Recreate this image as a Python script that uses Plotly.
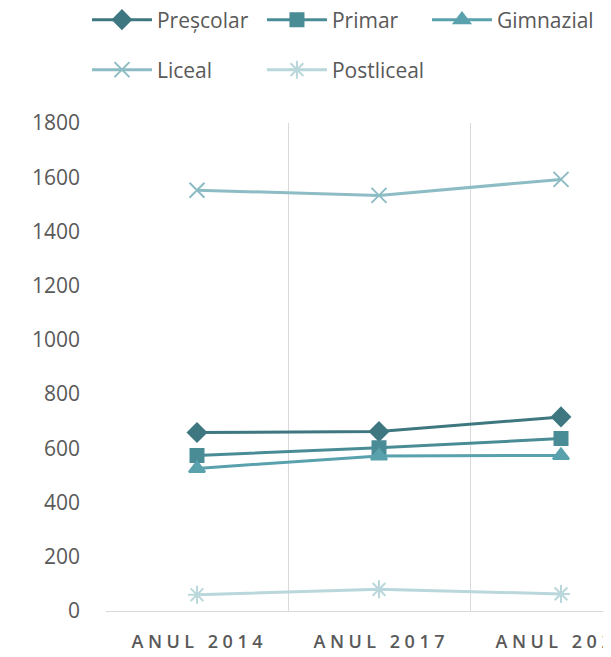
import plotly.graph_objects as go

categories = ["ANUL 2014", "ANUL 2017", "ANUL 2020"]
prescolar = [658, 662, 716]
primar = [574, 602, 636]
gimnazial = [526, 572, 574]
liceal = [1552, 1533, 1592]
postliceal = [60, 80, 63]

y_ticks = [0, 200, 400, 600, 800, 1000, 1200, 1400, 1600, 1800]

series = [
    ("Preșcolar", prescolar, "#3E7780", "diamond", 14, "legend"),
    ("Primar", primar, "#4A8C95", "square", 13, "legend"),
    ("Gimnazial", gimnazial, "#59A1AC", "triangle-up", 14, "legend3"),
    ("Liceal", liceal, "#8DBCC4", "x-thin-open", 15, "legend2"),
    ("Postliceal", postliceal, "#BAD7DB", "asterisk-open", 15, "legend2"),
]

x_idx = list(range(len(categories)))
spaced = ["\u2005".join(list(c)) for c in categories]

fig = go.Figure()
for name, vals, col, sym, sz, lg in series:
    fig.add_trace(go.Scatter(
        x=x_idx, y=vals, name=name, mode="lines+markers",
        line=dict(color=col, width=3),
        marker=dict(symbol=sym, size=sz, color=col, line=dict(color=col, width=2)),
        legend=lg,
    ))

font_fam = "Open Sans, Noto Sans, DejaVu Sans, sans-serif"
leg_common = dict(
    orientation="h", xanchor="left", yanchor="middle",
    font=dict(family=font_fam, size=21, color="#595959"),
    itemwidth=60, entrywidth=100, entrywidthmode="pixels",
    bgcolor="rgba(0,0,0,0)", xref="paper", yref="paper",
)

fig.update_layout(
    width=603, height=649,
    margin=dict(l=98, r=0, t=115, b=46, autoexpand=False),
    paper_bgcolor="white", plot_bgcolor="white",
    showlegend=True,
    legend=dict(x=-0.0377, y=1.2111, **leg_common),
    legend3=dict(x=0.6356, y=1.2111, **leg_common),
    legend2=dict(x=-0.0377, y=1.1086, **leg_common),
    xaxis=dict(
        range=[-0.5, -0.5 + 505 / 182],
        tickvals=x_idx, ticktext=spaced,
        showgrid=False, zeroline=False,
        showline=True, linecolor="#D9D9D9", linewidth=1,
        ticks="", ticklabelstandoff=14, ticklabeloverflow="allow",
        tickfont=dict(family="Open Sans, Liberation Sans, sans-serif", size=18, color="#595959", weight=600),
        minor=dict(tick0=0.5, dtick=1, showgrid=True, gridcolor="#D9D9D9", gridwidth=1, ticks=""),
    ),
    yaxis=dict(
        range=[0, 1800], tickvals=y_ticks,
        showgrid=False, zeroline=False, showline=False,
        ticks="", ticklabelstandoff=25,
        tickfont=dict(family=font_fam, size=21, color="#595959"),
    ),
)

fig.write_html("out.html")
